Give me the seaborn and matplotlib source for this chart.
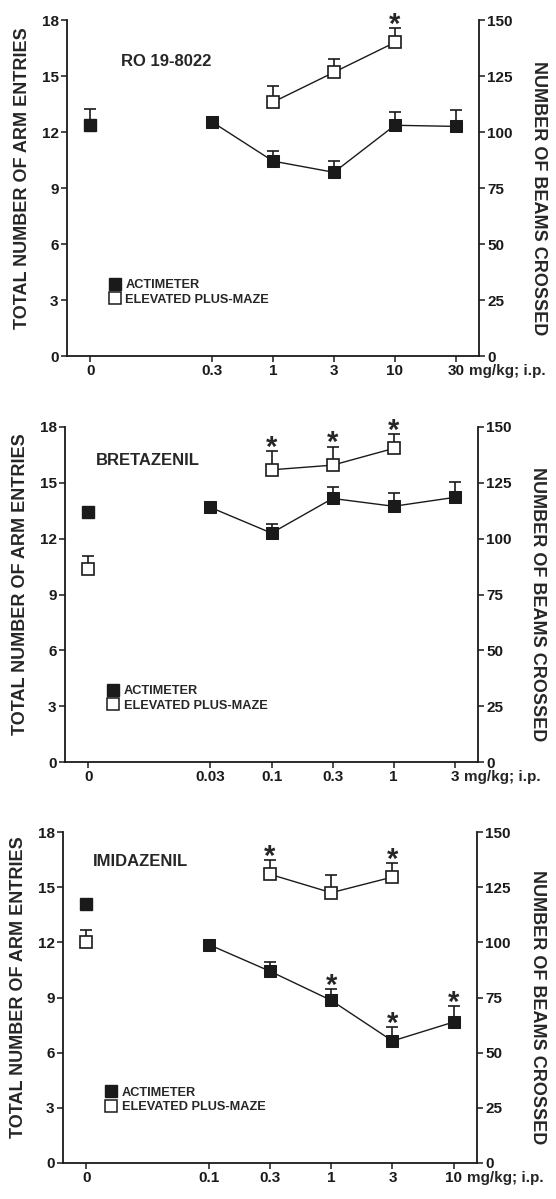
import numpy as np
import pandas as pd
import matplotlib
matplotlib.use("Agg")
import matplotlib.pyplot as plt
import seaborn as sns
from matplotlib.lines import Line2D

# --- DATA ---
# x positions: control (0) sits apart, doses are evenly spaced after a gap
positions = [0, 2, 3, 4, 5, 6]

# RO 19-8022
doses_ro = ["0", "0.3", "1", "3", "10", "30"]
act_ro = [103, 104.5, 87, 82, 103, 102.5]          # beams crossed
act_ro_err = [7.4, 0.8, 4.5, 5.1, 5.9, 7.4]
maze_ro = [np.nan, np.nan, 13.6, 15.2, 16.8, np.nan]  # arm entries
maze_ro_err = [np.nan, np.nan, 0.85, 0.7, 0.75, np.nan]
act_ro_star = []
maze_ro_star = ["10"]

# BRETAZENIL
doses_bre = ["0", "0.03", "0.1", "0.3", "1", "3"]
act_bre = [112, 114, 102.5, 118, 114.5, 118.5]
act_bre_err = [0, 0, 4.2, 5.3, 5.8, 7.0]
maze_bre = [10.35, np.nan, 15.7, 15.95, 16.85, np.nan]
maze_bre_err = [0.7, np.nan, 1.0, 1.0, 0.75, np.nan]
act_bre_star = []
maze_bre_star = ["0.1", "0.3", "1"]

# IMIDAZENIL
doses_imi = ["0", "0.1", "0.3", "1", "3", "10"]
act_imi = [117.3, 99, 86.9, 73.7, 55.3, 63.9]
act_imi_err = [0, 0, 4.4, 5.3, 6.3, 7.3]
maze_imi = [12.0, np.nan, 15.7, 14.7, 15.55, np.nan]
maze_imi_err = [0.65, np.nan, 0.8, 0.95, 0.75, np.nan]
act_imi_star = ["1", "3", "10"]
maze_imi_star = ["0.3", "3"]

panel_names = ["RO 19-8022", "BRETAZENIL", "IMIDAZENIL"]

# --- STYLE ---
sns.set_theme(style="ticks")
plt.rcParams["font.family"] = ["Liberation Sans", "DejaVu Sans"]
plt.rcParams["font.weight"] = "bold"
plt.rcParams["axes.labelweight"] = "bold"

W, H = 556, 1199
fig = plt.figure(figsize=(W / 100, H / 100), dpi=100)

# pixel boxes (left, right, top, bottom) for each panel
boxes = [(67, 479, 20, 356), (65, 478, 427, 762), (63, 477, 832, 1163)]
# (name x, name y) in data units
name_pos = [(0.5, 15.8), (0.13, 16.2), (0.11, 16.4)]

panels = [
    (doses_ro, act_ro, act_ro_err, maze_ro, maze_ro_err, act_ro_star, maze_ro_star),
    (doses_bre, act_bre, act_bre_err, maze_bre, maze_bre_err, act_bre_star, maze_bre_star),
    (doses_imi, act_imi, act_imi_err, maze_imi, maze_imi_err, act_imi_star, maze_imi_star),
]

tick_fs = 11
label_fs = 13
ms = 9
axes_pairs = []

for i, (doses, act, act_err, maze, maze_err, act_star, maze_star) in enumerate(panels):
    L, R, T, B = boxes[i]
    ax = fig.add_axes([L / W, 1 - B / H, (R - L) / W, (B - T) / H])
    ax2 = ax.twinx()

    df = pd.DataFrame({"pos": positions, "dose": doses,
                       "act": act, "act_err": act_err,
                       "maze": maze, "maze_err": maze_err})
    ctrl = df[df["pos"] == 0]
    drug = df[df["pos"] > 0]
    drug_maze = drug.dropna(subset=["maze"])

    # plus-maze (left axis, arm entries)
    ax.errorbar(df["pos"], df["maze"], yerr=[np.zeros(len(df)), df["maze_err"]],
                fmt="none", ecolor="k", elinewidth=1.2, capsize=4, capthick=1.2,
                zorder=2, clip_on=False)
    sns.lineplot(data=drug_maze, x="pos", y="maze", ax=ax, color="k", lw=1.0,
                 marker="s", markersize=ms, markerfacecolor="white",
                 markeredgecolor="k", markeredgewidth=1.2, errorbar=None,
                 zorder=3, clip_on=False)
    ax.plot(ctrl["pos"], ctrl["maze"], ls="none", marker="s", ms=ms,
            mfc="white", mec="k", mew=1.2, zorder=3, clip_on=False)

    # actimeter (right axis, beams crossed)
    ax2.errorbar(df["pos"], df["act"], yerr=[np.zeros(len(df)), df["act_err"]],
                 fmt="none", ecolor="k", elinewidth=1.2, capsize=4, capthick=1.2,
                 zorder=2, clip_on=False)
    sns.lineplot(data=drug, x="pos", y="act", ax=ax2, color="k", lw=1.0,
                 marker="s", markersize=ms, markerfacecolor="k",
                 markeredgecolor="k", errorbar=None, zorder=3, clip_on=False)
    ax2.plot(ctrl["pos"], ctrl["act"], ls="none", marker="s", ms=ms,
             mfc="k", mec="k", zorder=3, clip_on=False)

    # significance stars
    for d in maze_star:
        r = df[df["dose"] == d].iloc[0]
        ax.annotate("*", xy=(r["pos"], r["maze"] + r["maze_err"]), xytext=(0, -3.5),
                    textcoords="offset points", ha="center", va="baseline",
                    fontsize=21, fontweight="bold", annotation_clip=False)
    for d in act_star:
        r = df[df["dose"] == d].iloc[0]
        ax2.annotate("*", xy=(r["pos"], r["act"] + r["act_err"]), xytext=(0, -3.5),
                     textcoords="offset points", ha="center", va="baseline",
                     fontsize=21, fontweight="bold", annotation_clip=False)

    # axes formatting
    ax.set_xlim(-0.38, 6.38)
    ax.set_ylim(0, 18)
    ax2.set_ylim(0, 150)
    ax.set_yticks(np.arange(0, 19, 3))
    ax2.set_yticks(np.arange(0, 151, 25))
    ax.set_xticks(positions)
    ax.set_xticklabels(doses)
    ax.set_xlabel("")
    ax.set_ylabel("TOTAL NUMBER OF ARM ENTRIES", fontsize=label_fs, fontweight="bold")
    ax2.set_ylabel("NUMBER OF BEAMS CROSSED", fontsize=label_fs, fontweight="bold",
                   rotation=270, va="center")
    ax.yaxis.set_label_coords(-0.088, 0.53)
    ax2.yaxis.set_label_coords(1.145, 0.47)

    for a in (ax, ax2):
        a.tick_params(direction="out", length=4, width=1.1, labelsize=tick_fs, pad=2,
                      colors="k")
        for s in a.spines.values():
            s.set_linewidth(1.3)
            s.set_color("k")
        a.spines["top"].set_visible(False)
    ax.spines["right"].set_visible(False)
    ax2.spines["left"].set_visible(False)
    ax2.spines["bottom"].set_visible(False)
    for lab in ax.get_xticklabels() + ax.get_yticklabels() + ax2.get_yticklabels():
        lab.set_fontweight("bold")

    ax.text(name_pos[i][0], name_pos[i][1], panel_names[i], fontsize=12,
            fontweight="bold", ha="left", va="center")

    handles = [
        Line2D([], [], ls="none", marker="s", ms=8, mfc="k", mec="k", label="ACTIMETER"),
        Line2D([], [], ls="none", marker="s", ms=8, mfc="white", mec="k", mew=1.1,
               label="ELEVATED PLUS-MAZE"),
    ]
    ax2.legend(handles=handles, loc="lower left", bbox_to_anchor=(0.103, 0.15),
               frameon=False, prop={"size": 9.2, "weight": "bold"},
               handlelength=0.8, handletextpad=0.45, labelspacing=0.2,
               borderpad=0, borderaxespad=0)
    axes_pairs.append(ax)

# unit text after the last dose label
fig.canvas.draw()
for ax in axes_pairs:
    last = ax.get_xticklabels()[-1]
    ax.annotate("mg/kg; i.p.", xy=(1, 0), xycoords=last, xytext=(3.5, 0),
                textcoords="offset points", ha="left", va="bottom",
                fontsize=tick_fs, fontweight="bold", annotation_clip=False)

fig.savefig("out.png", dpi=100)
